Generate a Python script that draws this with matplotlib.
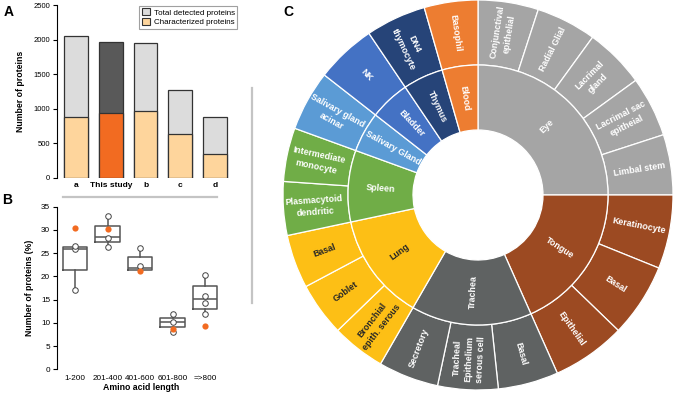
import numpy as np
import matplotlib.pyplot as plt
from matplotlib.patches import Patch
from matplotlib.lines import Line2D

plt.rcParams['font.family'] = ['Liberation Sans', 'DejaVu Sans']

# ---- panel A data
studies = ['a', 'This study', 'b', 'c', 'd']
total = [2050, 1965, 1950, 1275, 875]
characterized = [880, 945, 975, 640, 350]

# ---- panel B data (box stats)
lengths = ['1-200', '201-400', '401-600', '601-800', '=>800']
box_q1 = [21.4, 27.4, 21.4, 9.1, 13.0]
box_med = [26.0, 28.4, 21.8, 10.1, 15.1]
box_q3 = [26.3, 30.9, 24.2, 11.0, 18.0]
whisk_lo = [17.0, 26.4, 21.4, 8.0, 11.9]
whisk_hi = [26.5, 33.0, 26.1, 11.9, 20.3]
other_studies = [[17.0, 26.0, 26.5], [33.0, 28.3, 26.4], [26.1, 22.3],
                 [11.9, 10.1, 8.0], [20.3, 15.8, 14.2, 11.9]]
this_study = [30.5, 30.1, 21.1, 8.6, 9.4]

# ---- panel C data
tissues = ['Eye', 'Tongue', 'Trachea', 'Lung', 'Spleen', 'Salivary Gland',
           'Bladder', 'Thymus', 'Blood']
tissue_colors = ['#a5a5a5', '#9c4a22', '#5f6262', '#fdbf15', '#70ad47',
                 '#5b9bd5', '#4472c4', '#264478', '#ed7d31']
cell_types = [
    ['Conjunctival\nepithelial', 'Radial Glial', 'Lacrimal\ngland',
     'Lacrimal sac\nepitheial', 'Limbal stem'],
    ['Keratinocyte', 'Basal', 'Epithelial'],
    ['Basal', 'Tracheal\nEpithelium\nserous cell', 'Secretory'],
    ['Bronchial\nepith. serous', 'Goblet', 'Basal'],
    ['Plasmacytoid\ndendritic', 'Intermediate\nmonocyte'],
    ['Salivary gland\nacinar'],
    ['NK'],
    ['DN4\nthymocyte'],
    ['Basophil'],
]
cell_values = [
    [18, 18, 18, 18, 18],
    [22, 22, 22],
    [18, 18, 18],
    [16, 16, 16],
    [16, 16],
    [18],
    [18],
    [18],
    [16],
]

W, H = 677, 394
fig = plt.figure(figsize=(W / 100, H / 100), dpi=100)

# ================= A
axA = fig.add_axes([57 / W, 1 - 178 / H, 183 / W, 173 / H])
x = np.arange(len(studies))
for i in range(len(studies)):
    top_c = '#595959' if studies[i] == 'This study' else '#dcdcdc'
    bot_c = '#f26b21' if studies[i] == 'This study' else '#fed59c'
    axA.bar(x[i], total[i], width=0.69, color=top_c, edgecolor='#333333', linewidth=0.9)
    axA.bar(x[i], characterized[i], width=0.69, color=bot_c, edgecolor='#333333', linewidth=0.9)
axA.set_xlim(-0.547, 4.72)
axA.set_ylim(0, 2500)
axA.set_yticks([0, 500, 1000, 1500, 2000, 2500])
axA.set_xticks(x)
axA.set_xticklabels(studies, fontsize=6, fontweight='bold')
axA.tick_params(axis='x', length=0, pad=3)
axA.tick_params(axis='y', labelsize=5.5, length=3, width=0.8, pad=2)
for s in ['top', 'right', 'bottom']:
    axA.spines[s].set_visible(False)
axA.spines['left'].set_linewidth(0.8)
axA.set_ylabel('Number of proteins', fontsize=6.3, fontweight='bold', labelpad=6)
handles = [Patch(facecolor='#dcdcdc', edgecolor='#333333', linewidth=0.8),
           Patch(facecolor='#fed59c', edgecolor='#333333', linewidth=0.8)]
leg = axA.legend(handles, ['Total detected proteins', 'Characterized proteins'],
                 loc='upper right', bbox_to_anchor=(0.99, 1.0), fontsize=5.8,
                 fancybox=False, edgecolor='#888888', handlelength=1.0, handleheight=1.0,
                 borderpad=0.3, labelspacing=0.15, handletextpad=0.5, borderaxespad=0.1)
leg.get_frame().set_linewidth(0.8)

# ================= B
axB = fig.add_axes([57 / W, 1 - 369.3 / H, 168 / W, 162.6 / H])
pos = np.arange(1, len(lengths) + 1)
stats = []
for i in range(len(lengths)):
    stats.append(dict(med=box_med[i], q1=box_q1[i], q3=box_q3[i],
                      whislo=whisk_lo[i], whishi=whisk_hi[i], fliers=[]))
lc = '#555555'
axB.bxp(stats, positions=pos, widths=0.74, showcaps=False,
        boxprops=dict(color=lc, linewidth=1.1),
        medianprops=dict(color=lc, linewidth=1.1),
        whiskerprops=dict(color=lc, linewidth=1.1))
for i in range(len(lengths)):
    axB.scatter([pos[i]] * len(other_studies[i]), other_studies[i], s=16,
                facecolor='white', edgecolor='#444444', linewidth=0.7, zorder=4)
axB.scatter(pos, this_study, s=20, color='#f26b21', zorder=5, linewidth=0)
axB.set_xlim(0.446, 5.615)
axB.set_ylim(0, 35)
axB.set_yticks(np.arange(0, 36, 5))
axB.set_xticks(pos)
axB.set_xticklabels(lengths, fontsize=5.9)
axB.tick_params(axis='x', length=0, pad=4)
axB.tick_params(axis='y', labelsize=5.9, length=3, width=0.8, pad=2)
for s in ['top', 'right', 'bottom']:
    axB.spines[s].set_visible(False)
axB.spines['left'].set_linewidth(0.8)
axB.set_ylabel('Number of proteins (%)', fontsize=6.2, fontweight='bold', labelpad=5)
axB.set_xlabel('Amino acid length', fontsize=6.3, fontweight='bold', labelpad=1)

# separators
fig.add_artist(Line2D([63 / W, 217 / W], [1 - 197 / H] * 2, color='#c4c4c4', linewidth=1.6))
fig.add_artist(Line2D([252 / W] * 2, [1 - 88 / H, 1 - 303 / H], color='#c4c4c4', linewidth=1.6))

# ================= C
cx, cy, R = 478, 195, 195
half = R * 1.03
axC = fig.add_axes([(cx - half) / W, (H - cy - half) / H, 2 * half / W, 2 * half / H])
outer_vals, outer_cols, outer_labels, outer_tc = [], [], [], []
inner_vals = []
for t in range(len(tissues)):
    inner_vals.append(sum(cell_values[t]))
    for j in range(len(cell_values[t])):
        outer_vals.append(cell_values[t][j])
        outer_cols.append(tissue_colors[t])
        outer_labels.append(cell_types[t][j])
        outer_tc.append('#262626' if tissues[t] == 'Lung' else 'white')
inner_tc = ['#262626' if t == 'Lung' else 'white' for t in tissues]

wp = dict(width=1 / 3, edgecolor='white', linewidth=0.9)
axC.pie(outer_vals, radius=1.0, colors=outer_cols, startangle=90,
        counterclock=False, wedgeprops=wp)
axC.pie(inner_vals, radius=2 / 3, colors=tissue_colors, startangle=90,
        counterclock=False, wedgeprops=wp)
axC.set_xlim(-1.03, 1.03)
axC.set_ylim(-1.03, 1.03)
axC.set_aspect('equal')
axC.axis('off')


def put_labels(vals, labels, colors, r):
    tot = float(sum(vals))
    cum = 0.0
    for v, lab, c in zip(vals, labels, colors):
        mid = (cum + v / 2) / tot * 360
        cum += v
        th = 90 - mid
        rot = (th + 180) % 360 - 180
        if rot > 90:
            rot -= 180
        elif rot < -90:
            rot += 180
        axC.text(r * np.cos(np.radians(th)), r * np.sin(np.radians(th)), lab,
                 rotation=rot, rotation_mode='anchor', ha='center', va='center',
                 color=c, fontsize=6.4, fontweight='bold', linespacing=1.4)


put_labels(outer_vals, outer_labels, outer_tc, 0.84)
put_labels(inner_vals, tissues, inner_tc, 0.5)

# panel letters
fig.text(4 / W, 1 - 12.5 / H, 'A', fontsize=10, fontweight='bold', va='center')
fig.text(2 / W, 1 - 200 / H, 'B', fontsize=10, fontweight='bold', va='center')
fig.text(283 / W, 1 - 12 / H, 'C', fontsize=10, fontweight='bold', va='center')

fig.savefig('out.png', dpi=100)
